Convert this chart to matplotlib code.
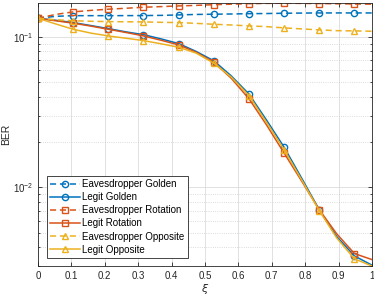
import matplotlib
matplotlib.use("Agg")
from matplotlib import pyplot as plt
from matplotlib.ticker import LogLocator, NullFormatter

plt.rcParams['font.family'] = ['Liberation Sans', 'DejaVu Sans']

xi = [0.0, 0.0526, 0.1053, 0.1579, 0.2105, 0.2632, 0.3158, 0.3684, 0.4211, 0.4737,
      0.5263, 0.5789, 0.6316, 0.6842, 0.7368, 0.7895, 0.8421, 0.8947, 0.9474, 1.0]

eve_golden = [0.133, 0.137, 0.1384, 0.1384, 0.1384, 0.1385, 0.1386, 0.139, 0.140, 0.141,
              0.1415, 0.142, 0.1427, 0.143, 0.1436, 0.144, 0.1443, 0.1443, 0.1443, 0.1443]
legit_golden = [0.133, 0.129, 0.1245, 0.119, 0.1135, 0.108, 0.1035, 0.097, 0.0903, 0.080,
                0.0694, 0.055, 0.0417, 0.028, 0.0185, 0.0115, 0.0071, 0.0047, 0.0035, 0.00304]
eve_rotation = [0.133, 0.141, 0.1466, 0.150, 0.1528, 0.155, 0.1574, 0.159, 0.1606, 0.162,
                0.1638, 0.165, 0.1663, 0.167, 0.1676, 0.167, 0.1666, 0.166, 0.1655, 0.165]
legit_rotation = [0.133, 0.128, 0.1234, 0.118, 0.1124, 0.107, 0.1015, 0.095, 0.0885, 0.079,
                  0.0679, 0.053, 0.0388, 0.026, 0.0169, 0.011, 0.0071, 0.0049, 0.00363, 0.00331]
eve_opposite = [0.133, 0.130, 0.128, 0.127, 0.1264, 0.126, 0.1258, 0.125, 0.1245, 0.123,
                0.1213, 0.120, 0.1183, 0.117, 0.1148, 0.113, 0.1113, 0.110, 0.1096, 0.109]
legit_opposite = [0.133, 0.122, 0.1124, 0.106, 0.1015, 0.098, 0.0945, 0.090, 0.0854, 0.078,
                  0.0669, 0.054, 0.0407, 0.027, 0.0178, 0.0112, 0.0070, 0.0046, 0.00335, 0.0030]

xticks = [0, 0.1, 0.2, 0.3, 0.4, 0.5, 0.6, 0.7, 0.8, 0.9, 1.0]
xtick_labels = ['0', '0.1', '0.2', '0.3', '0.4', '0.5', '0.6', '0.7', '0.8', '0.9', '1']

blue = '#0072BD'
red = '#D95319'
yellow = '#EDB120'

fig = plt.figure(figsize=(3.74, 3.0), dpi=100)
ax = fig.add_axes([0.1016, 0.1133, 0.893, 0.8767])

marks = slice(0, 19, 2)
series = [
    (eve_golden, blue, '--', 'o', 'Eavesdropper Golden'),
    (legit_golden, blue, '-', 'o', 'Legit Golden'),
    (eve_rotation, red, '--', 's', 'Eavesdropper Rotation'),
    (legit_rotation, red, '-', 's', 'Legit Rotation'),
    (eve_opposite, yellow, '--', '^', 'Eavesdropper Opposite'),
    (legit_opposite, yellow, '-', '^', 'Legit Opposite'),
]
for y, c, ls, m, lab in series:
    line, = ax.plot(xi, y, color=c, linestyle=ls, marker=m, markevery=marks,
                    markerfacecolor='none', markeredgewidth=1.0,
                    markersize=4.5 if m != 's' else 4.0,
                    linewidth=1.1, label=lab)
    if ls == '--':
        line.set_dashes((4, 2.5))

ax.set_yscale('log')
ax.set_xlim(0, 1)
ax.set_ylim(0.003, 0.168)
ax.set_xticks(xticks)
ax.set_xticklabels(xtick_labels)
ax.yaxis.set_minor_locator(LogLocator(base=10, subs=range(2, 10)))
ax.yaxis.set_minor_formatter(NullFormatter())

ax.grid(True, which='major', color='#dcdcdc', linewidth=0.6)
ax.grid(True, which='minor', axis='y', color='#d0d0d0', linestyle=':', linewidth=0.6)
ax.set_axisbelow(True)

for s in ax.spines.values():
    s.set_color('#262626')
    s.set_linewidth(0.6)
ax.tick_params(which='both', direction='in', top=True, right=True, colors='#262626',
               labelsize=7, width=0.6)
ax.tick_params(which='major', length=3)
ax.tick_params(which='minor', length=1.5)

ax.set_xlabel(r'$\xi$', fontsize=8, color='#262626', labelpad=1)
ax.set_ylabel('BER', fontsize=7.5, color='#262626', labelpad=1)

leg = ax.legend(loc='lower left', bbox_to_anchor=(0.027, 0.03), fontsize=7,
                handlelength=3.0, handletextpad=0.25, borderpad=0.35, labelspacing=0.32,
                borderaxespad=0.0,
                fancybox=False, edgecolor='#262626', framealpha=1)
leg.get_frame().set_linewidth(0.6)

fig.savefig('out.png', dpi=100)
